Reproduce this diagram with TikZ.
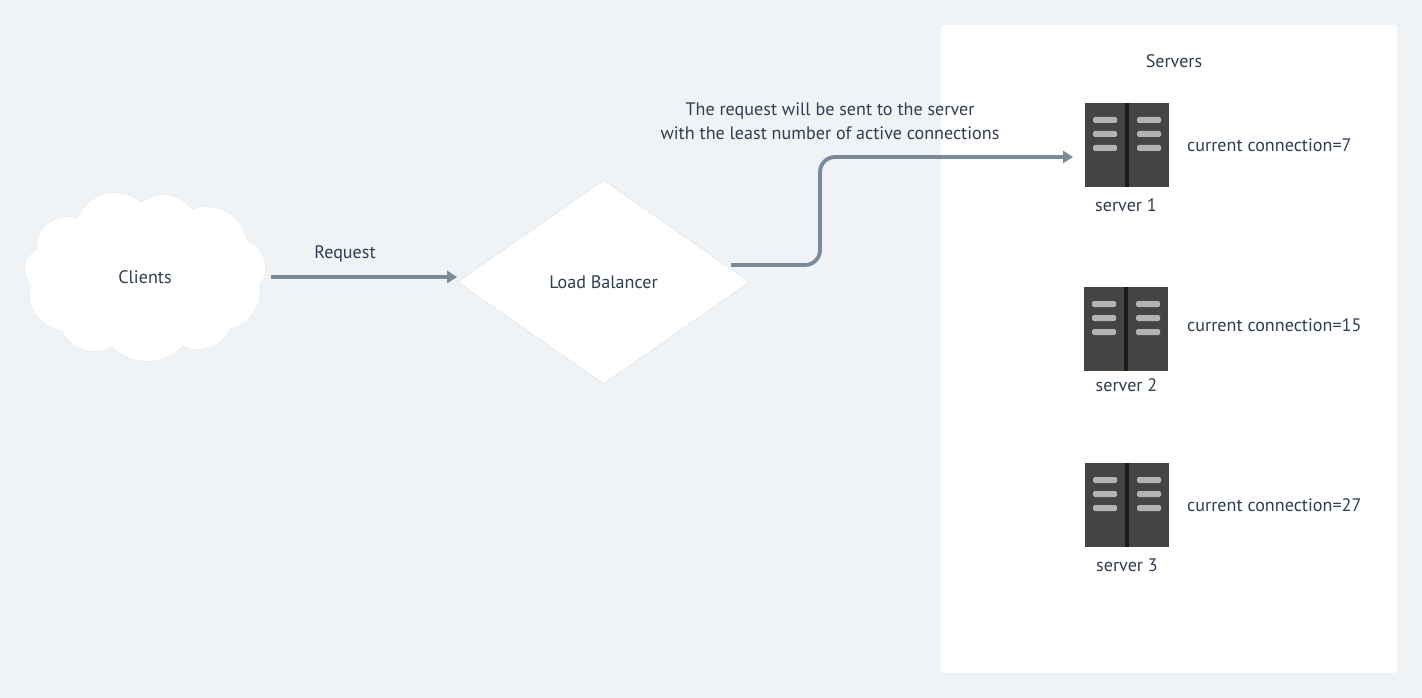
\documentclass[tikz,border=0pt]{standalone}
\usepackage{fontspec}
\setmainfont{PT Sans}
\usetikzlibrary{shapes.geometric,arrows.meta}
\definecolor{bgc}{HTML}{EFF3F6}
\definecolor{edgec}{HTML}{E6EAED}
\definecolor{linec}{HTML}{7A8A99}
\definecolor{txtc}{HTML}{2F3E50}
\definecolor{srvc}{HTML}{444444}
\definecolor{stripc}{HTML}{1A1A1A}
\definecolor{barc}{HTML}{B3B3B3}
\tikzset{
  lbl/.style={text=txtc,font=\fontsize{18.1}{24}\selectfont,inner sep=0pt,align=center},
  conn/.style={draw=linec,line width=3.8pt,-{Triangle[length=10pt,width=12pt]}},
  bar/.style={fill=barc,rounded corners=1.5pt},
}
\newcommand{\srv}[3]{% name, x, y
  \node[fill=srvc,minimum width=84pt,minimum height=84pt,inner sep=0pt,anchor=north west] (#1) at (#2,#3) {};
  \fill[stripc] (#2+40,#3) rectangle (#2+44,#3+84);
  \foreach \dx in {8,52} \foreach \dy in {14,28,42}
    \path[bar] (#2+\dx,#3+\dy) rectangle (#2+\dx+24,#3+\dy+6);
}
\begin{document}
\begin{tikzpicture}[x=1pt,y=-1pt]
\path[fill=bgc,use as bounding box] (0,0) rectangle (1422,698);
% panel
\path[fill=white,rounded corners=3pt] (941,25) rectangle (1397,673);
% cloud
\def\cloud{
 (115,233) circle[radius=40] (163,230) circle[radius=35] (207,247) circle[radius=40]
 (235,268) circle[radius=30] (67,247) circle[radius=30] (47,269) circle[radius=22]
 (65,295) circle[radius=35] (94,316) circle[radius=35] (147,311) circle[radius=50]
 (198,313) circle[radius=36] (220,290) circle[radius=40] (145,275) circle[radius=60]}
\draw[edgec,line width=1pt] \cloud;
\fill[white] \cloud;
\node[lbl,minimum width=252pt,minimum height=60pt] (clients) at (145,277) {Clients};
% diamond
\node[diamond,shape aspect=1.431,draw=edgec,fill=white,line width=0.8pt,minimum width=292pt,minimum height=204pt,inner sep=0pt,lbl] (lb) at (603.5,282) {Load Balancer};
% servers
\srv{s1}{1085}{103}
\srv{s2}{1084}{287}
\srv{s3}{1085}{463}
% labels
\node[lbl] (t1) at (1174,61.5) {Servers};
\node[lbl] (t2) at (830,121) {The request will be sent to the server\\with the least number of active connections};
\node[lbl] (t3) at (345,253.5) {Request};
\node[lbl] at (1126,205.5) {server 1};
\node[lbl] at (1126.5,385.5) {server 2};
\node[lbl] at (1127,565.5) {server 3};
\node[lbl,anchor=west] at (1187,145.5) {current connection=7};
\node[lbl,anchor=west] at (1187,325.5) {current connection=15};
\node[lbl,anchor=west] at (1187,505.5) {current connection=27};
% connectors
\coordinate (lbout) at (731,265);
\coordinate (s1in) at (1073,157);
\draw[conn] (clients.east) -- (clients.east -| lb.west);
\draw[conn,rounded corners=15pt] (lbout) -- (820,265) -- (820,157) -- (s1in);
\end{tikzpicture}
\end{document}
